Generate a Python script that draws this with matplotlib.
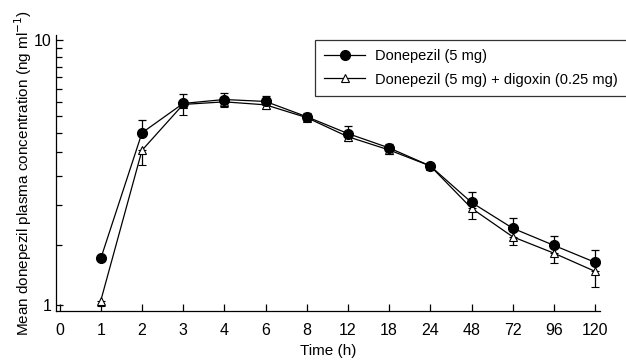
import numpy as np
import matplotlib
matplotlib.use("Agg")
import matplotlib.pyplot as plt
from matplotlib.ticker import FixedLocator, NullFormatter
from matplotlib.lines import Line2D

plt.rcParams['font.family'] = ['Liberation Sans', 'DejaVu Sans']

time_labels = ["0", "1", "2", "3", "4", "6", "8", "12", "18", "24", "48", "72", "96", "120"]
sample_labels = ["1", "2", "3", "4", "6", "8", "12", "18", "24", "48", "72", "96", "120"]

donepezil = [1.50, 4.47, 5.77, 5.97, 5.87, 5.14, 4.44, 3.92, 3.35, 2.44, 1.95, 1.68, 1.45]
donepezil_err = [0.0, 0.52, 0.48, 0.35, 0.30, 0.15, 0.30, 0.15, 0.10, 0.24, 0.18, 0.15, 0.16]

combo = [1.04, 3.84, 5.72, 5.85, 5.70, 5.10, 4.32, 3.85, 3.35, 2.32, 1.81, 1.57, 1.34]
combo_err = [0.05, 0.46, 0.50, 0.28, 0.20, 0.10, 0.15, 0.12, 0.08, 0.20, 0.13, 0.13, 0.17]

fig = plt.figure(figsize=(6.26, 3.62), dpi=100)
ax = fig.add_axes([0.089, 0.1417, 0.8695, 0.7613])

x_all = np.arange(len(time_labels))
pos = {lab: i for i, lab in enumerate(time_labels)}
xs = np.array([pos[l] for l in sample_labels])

ax.set_yscale('log')

ax.errorbar(xs, combo, yerr=[combo_err, np.zeros(len(combo_err))], color='black',
            marker='^', markersize=6, markerfacecolor='white', markeredgecolor='black',
            markeredgewidth=0.8, lw=0.9, capsize=3, elinewidth=0.9, capthick=0.9, zorder=3)
ax.errorbar(xs, donepezil, yerr=[np.zeros(len(donepezil_err)), donepezil_err], color='black',
            marker='o', markersize=7, markerfacecolor='black', markeredgecolor='black',
            lw=0.9, capsize=3, elinewidth=0.9, capthick=0.9, zorder=4)

ax.set_xlim(-0.095, 13.12)
ax.set_ylim(0.952, 10.45)

ax.set_xticks(x_all)
ax.set_xticklabels(time_labels)
ax.yaxis.set_major_locator(FixedLocator([1, 10]))
ax.set_yticklabels(['1', '10'])
ax.yaxis.set_minor_locator(FixedLocator(list(np.linspace(1, 10, 14)[1:-1])))
ax.yaxis.set_minor_formatter(NullFormatter())

ax.tick_params(axis='both', which='both', direction='in', labelsize=11.5, width=0.9)
ax.tick_params(axis='x', length=5, pad=9)
ax.tick_params(axis='y', which='major', length=5, pad=3)
ax.tick_params(axis='y', which='minor', length=4)

for s in ['top', 'right']:
    ax.spines[s].set_visible(False)
for s in ['left', 'bottom']:
    ax.spines[s].set_linewidth(0.9)

ax.set_xlabel('Time (h)', fontsize=11, labelpad=4)
ax.set_ylabel('Mean donepezil plasma concentration (ng ml$^{-1}$)', fontsize=11, labelpad=0)

handles = [
    Line2D([], [], color='black', lw=0.9, marker='o', markersize=7,
           markerfacecolor='black', markeredgecolor='black'),
    Line2D([], [], color='black', lw=0.9, marker='^', markersize=6,
           markerfacecolor='white', markeredgecolor='black', markeredgewidth=0.8),
]
labels = ['Donepezil (5 mg)', 'Donepezil (5 mg) + digoxin (0.25 mg)']
leg = ax.legend(handles, labels, loc='upper left',
                bbox_to_anchor=(315/626, 1.0 - 40/362), bbox_transform=fig.transFigure,
                fontsize=10.5, frameon=True, fancybox=False, edgecolor='black',
                handlelength=2.75, borderpad=0.65, labelspacing=0.62, handletextpad=0.7,
                borderaxespad=0)
leg.get_frame().set_linewidth(0.9)

fig.savefig('out.png', dpi=100)
